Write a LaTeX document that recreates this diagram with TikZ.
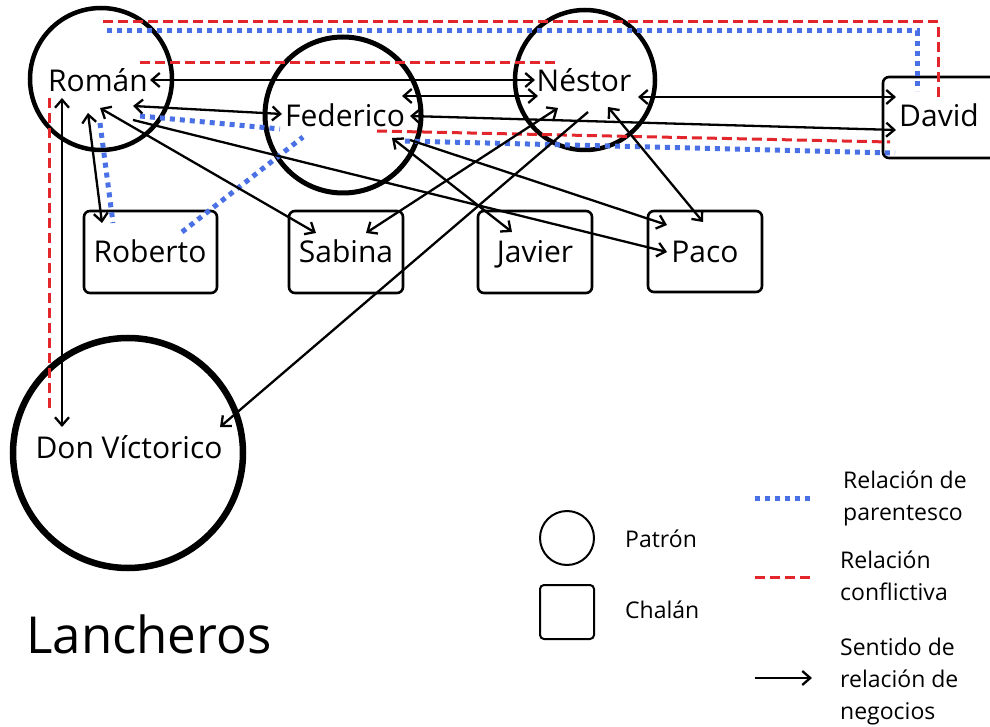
\documentclass[tikz,border=0pt]{standalone}
\usepackage{fontspec}
\setmainfont{Open Sans}
\usetikzlibrary{arrows.meta}
\definecolor{kinblue}{RGB}{74,112,230}
\definecolor{feudred}{RGB}{226,38,44}
\begin{document}
\begin{tikzpicture}[x=1pt,y=-1pt,
  patron/.style={circle,draw,inner sep=0pt,outer sep=0pt},
  chalan/.style={draw,line width=2.6pt,rounded corners=6pt,inner sep=0pt,outer sep=0pt},
  who/.style={anchor=base,inner sep=0pt,font=\fontsize{30}{36}\selectfont},
  tip/.tip={Straight Barb[length=8pt,width=14pt]},
  biz/.style={line width=2.3pt,tip-tip},
  bizone/.style={line width=2.3pt,-tip},
  kin/.style={draw=kinblue,line width=5pt,dash pattern=on 5pt off 5pt},
  feud/.style={draw=feudred,line width=3pt,dash pattern=on 10pt off 5pt},
  legtext/.style={anchor=base west,inner sep=0pt,font=\fontsize{23}{28}\selectfont}
]
\useasboundingbox (0,0) rectangle (990,727);
\clip (0,0) rectangle (990,727);

% patrones (circles) and chalanes (boxes)
\node[patron,line width=4.5pt,minimum size=142pt] (roman) at (101,79) {};
\node[patron,line width=5pt,minimum size=156pt] (federico) at (343,115) {};
\node[patron,line width=4.5pt,minimum size=140pt] (nestor) at (585,80) {};
\node[patron,line width=6.5pt,minimum size=230pt] (dv) at (128,453) {};
\node[chalan,minimum width=113pt,minimum height=81pt] (david) at (939.5,117.5) {};
\node[chalan,minimum width=133pt,minimum height=82pt] (roberto) at (150.5,252) {};
\node[chalan,minimum width=114pt,minimum height=82pt] (sabina) at (346,252) {};
\node[chalan,minimum width=114pt,minimum height=82pt] (javier) at (535,252) {};
\node[chalan,minimum width=114pt,minimum height=81pt] (paco) at (705,251.5) {};

% names
\node[who] (tRoman) at (98,92) {Román};
\node[who] (tFederico) at (345,127) {Federico};
\node[who] (tNestor) at (584,92) {Néstor};
\node[who] (tDavid) at (939,127) {David};
\node[who] (tRoberto) at (150,263) {Roberto};
\node[who] (tSabina) at (346,262) {Sabina};
\node[who] (tJavier) at (535,262) {Javier};
\node[who] (tPaco) at (705,263) {Paco};
\node[who] (tDv) at (129,458) {Don Víctorico};

% conflict relations
\draw[feud] ([shift={(2,-57)}]roman.center) -| ([shift={(-1.5,-19.5)}]david.center);
\draw[feud] ([shift={(39,-16)}]roman.center) -- ([shift={(-28,-17)}]nestor.center);
\draw[feud] ([shift={(34,16)}]federico.center) -- ([shift={(-49.5,24.5)}]david.center);
\draw[feud] ([shift={(-52,19)}]roman.center) -- ([shift={(-79,-45)}]dv.center);

% kinship relations
\draw[kin] ([shift={(6,-48)}]roman.center) -| ([shift={(-22.5,-26.5)}]david.center);
\draw[kin] ([shift={(39,37)}]roman.center) -- ([shift={(-63,14)}]federico.center);
\draw[kin] ([shift={(-1,44)}]roman.center) -- ([shift={(-37.5,-29)}]roberto.center);
\draw[kin] ([shift={(31.5,-20)}]roberto.center) -- ([shift={(-40,22)}]federico.center);
\draw[kin] ([shift={(62,26)}]federico.center) -- ([shift={(-44.5,35.5)}]david.center);

% business relations
\draw[biz] ([shift={(49,1)}]roman.center) -- ([shift={(-50,0)}]nestor.center);
\draw[biz] ([shift={(32,27)}]roman.center) -- ([shift={(-61,-1)}]federico.center);
\draw[biz] ([shift={(59,-19)}]federico.center) -- ([shift={(-47,16)}]nestor.center);
\draw[biz] ([shift={(53,17)}]nestor.center) -- ([shift={(-43.5,-20.5)}]david.center);
\draw[biz] ([shift={(67,1)}]federico.center) -- ([shift={(-43.5,12.5)}]david.center);
\draw[biz] ([shift={(-13,34)}]roman.center) -- ([shift={(-48.5,-29)}]roberto.center);
\draw[biz] ([shift={(-1,29)}]roman.center) -- ([shift={(-30,-19)}]sabina.center);
\draw[bizone] ([shift={(32,41)}]roman.center) -- ([shift={(-38,0.5)}]paco.center);
\draw[biz] ([shift={(49,23)}]federico.center) -- ([shift={(-23,-20)}]javier.center);
\draw[bizone] ([shift={(67,25)}]federico.center) -- ([shift={(-38,-26.5)}]paco.center);
\draw[biz] ([shift={(-27,28)}]nestor.center) -- ([shift={(20,-19)}]sabina.center);
\draw[bizone] ([shift={(3,32)}]nestor.center) -- ([shift={(92,-26)}]dv.center);
\draw[biz] ([shift={(23,27)}]nestor.center) -- ([shift={(-2,-29.5)}]paco.center);
\draw[biz] ([shift={(-39,19)}]roman.center) -- ([shift={(-66,-26)}]dv.center);

% title
\node[anchor=base west,inner sep=0pt,font=\fontsize{51}{60}\selectfont] (title) at (26,653) {Lancheros};

% legend
\node[patron,line width=2pt,minimum size=54pt] (legP) at (567,538) {};
\node[draw,line width=2pt,rounded corners=4pt,minimum size=54pt,inner sep=0pt] (legC) at (567,612) {};
\node[legtext] (legPt) at (625,547) {Patrón};
\node[legtext] (legCt) at (625,618) {Chalán};

\coordinate (kinA) at (755,498);
\coordinate (kinB) at (812,498);
\draw[kin] (kinA) -- (kinB);
\coordinate (feudA) at (755,577);
\coordinate (feudB) at (812,577);
\draw[feud] (feudA) -- (feudB);
\coordinate (bizA) at (755,678);
\coordinate (bizB) at (812,678);
\draw[bizone] (bizA) -- (bizB);

\node[legtext] (l1a) at (843,488) {Relación de};
\node[legtext] (l1b) at (843,520) {parentesco};
\node[legtext] (l2a) at (840,568) {Relación};
\node[legtext] (l2b) at (840,600) {conflictiva};
\node[legtext] (l3a) at (840,655) {Sentido de};
\node[legtext] (l3b) at (840,687) {relación de};
\node[legtext] (l3c) at (840,719) {negocios};
\end{tikzpicture}
\end{document}
